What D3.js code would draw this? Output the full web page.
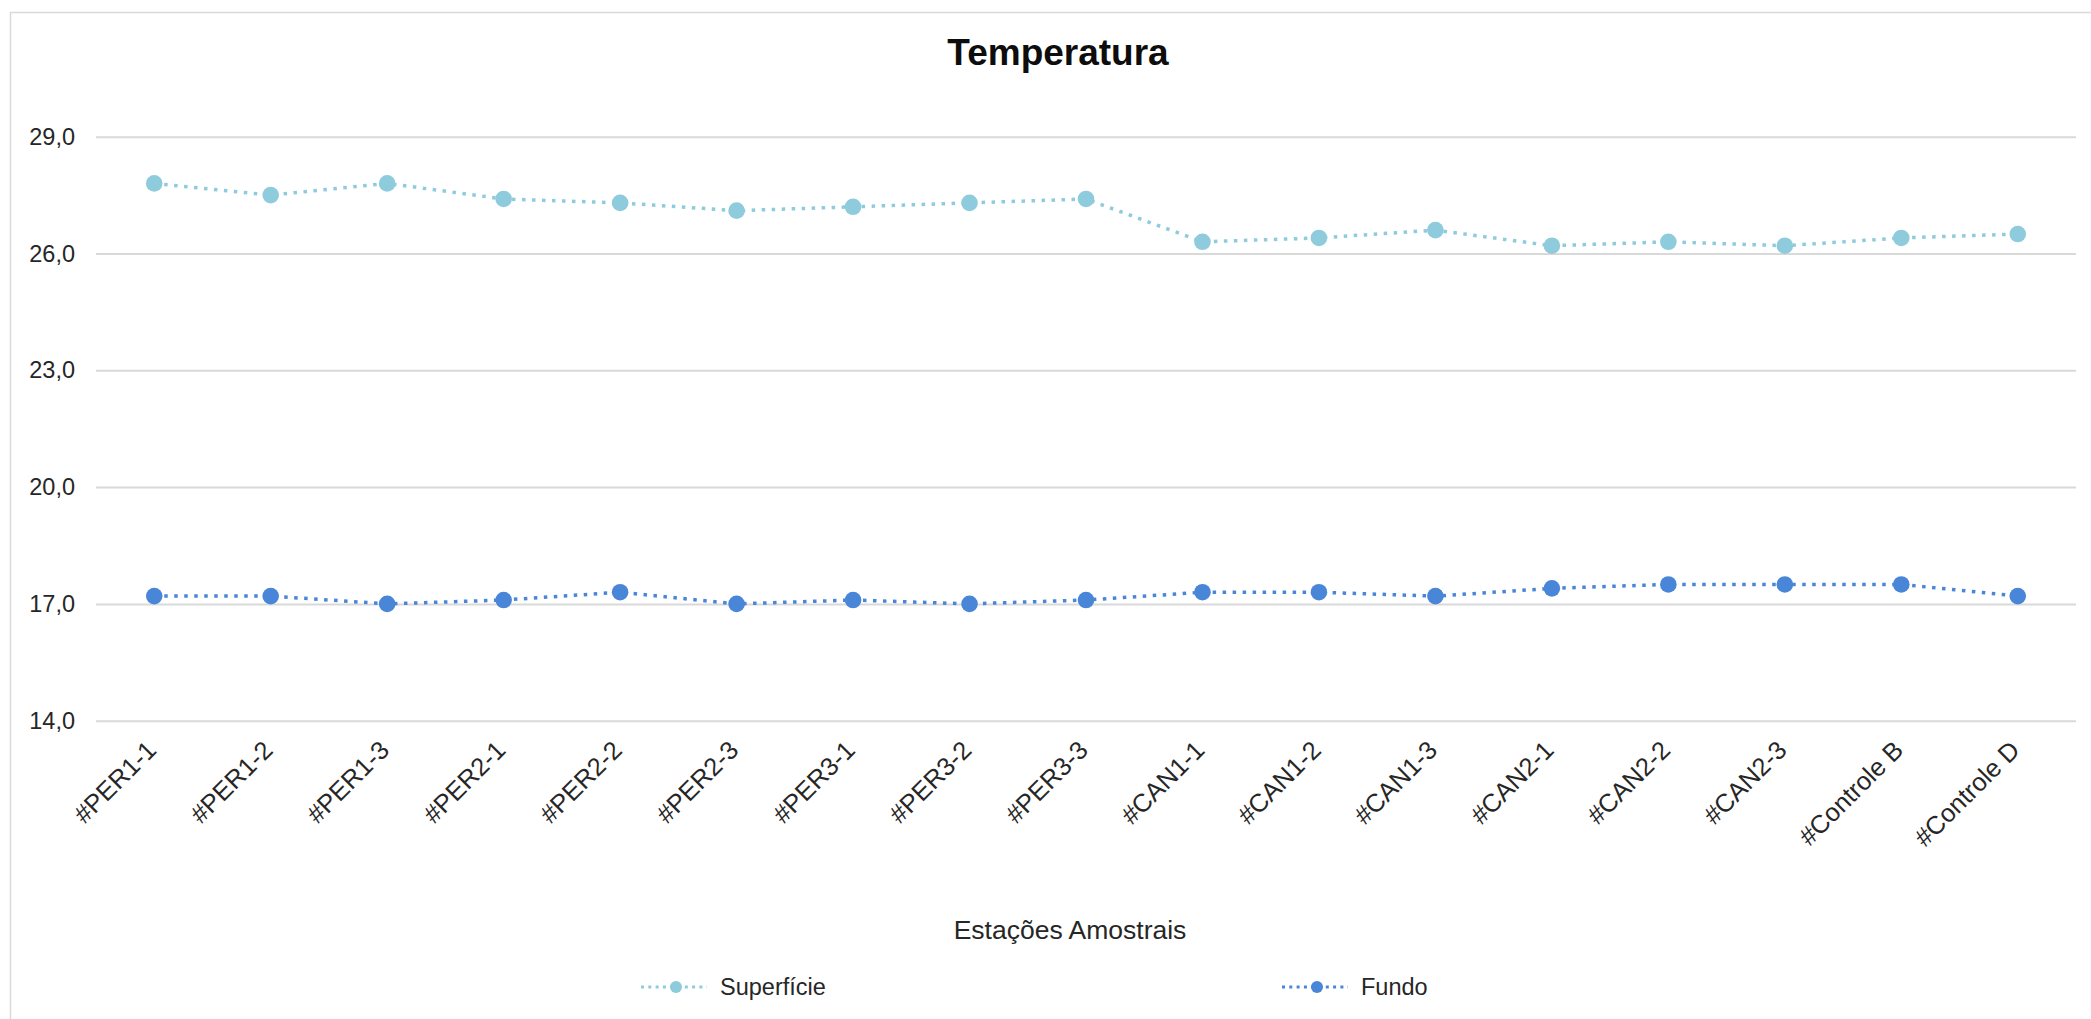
<!DOCTYPE html>
<html>
<head>
<meta charset="utf-8">
<script src="https://cdn.jsdelivr.net/npm/d3@7"></script>
<style>
  html, body { margin: 0; padding: 0; background: #fff; }
  svg { display: block; font-family: "Liberation Sans", Arial, sans-serif; }
</style>
</head>
<body>
<svg id="chart" width="2091" height="1019"></svg>
<script>
// Sampling stations along the x axis
const stations = ["#PER1-1", "#PER1-2", "#PER1-3", "#PER2-1", "#PER2-2", "#PER2-3",
  "#PER3-1", "#PER3-2", "#PER3-3", "#CAN1-1", "#CAN1-2", "#CAN1-3",
  "#CAN2-1", "#CAN2-2", "#CAN2-3", "#Controle B", "#Controle D"];

// Temperature (°C) at the surface and at the bottom
const superficie = [27.8, 27.5, 27.8, 27.4, 27.3, 27.1, 27.2, 27.3, 27.4,
  26.3, 26.4, 26.6, 26.2, 26.3, 26.2, 26.4, 26.5];
const fundo = [17.2, 17.2, 17.0, 17.1, 17.3, 17.0, 17.1, 17.0, 17.1,
  17.3, 17.3, 17.2, 17.4, 17.5, 17.5, 17.5, 17.2];

const yTicks = [14, 17, 20, 23, 26, 29];

const seriesNames = ["Superfície", "Fundo"];
const seriesColors = ["#8ecbdc", "#4a86d8"];

const svg = d3.select("#chart");

// Background and chart frame
svg.append("rect").attr("width", 2091).attr("height", 1019).attr("fill", "#fff");
svg.append("rect")
  .attr("x", 10.5).attr("y", 12.5)
  .attr("width", 2100).attr("height", 1100)
  .attr("fill", "none").attr("stroke", "#d9d9d9").attr("stroke-width", 1.5);

const plotLeft = 96, plotRight = 2076;
const x = d3.scalePoint().domain(stations).range([plotLeft, plotRight]).padding(0.5);
const y = d3.scaleLinear().domain([14, 29]).range([720.7, 136.7]);

const ptBR = d3.formatLocale({ decimal: ",", thousands: ".", grouping: [3], currency: ["R$", ""] });
const fmt = ptBR.format(".1f");

// Horizontal gridlines + value labels
const yAxis = d3.axisLeft(y)
  .tickValues(yTicks)
  .tickFormat(fmt)
  .tickSize(-(plotRight - plotLeft))
  .tickPadding(21);

const gy = svg.append("g")
  .attr("transform", `translate(${plotLeft},0)`)
  .call(yAxis);
gy.select(".domain").remove();
gy.selectAll(".tick line").attr("stroke", "#d9d9d9").attr("stroke-width", 2);
gy.selectAll(".tick text")
  .attr("font-size", 23.5)
  .attr("fill", "#262626")
  .attr("font-family", "Liberation Sans, Arial, sans-serif");

// Category labels, rotated
const xAxis = d3.axisBottom(x).tickSize(0).tickPadding(0);
const gx = svg.append("g")
  .attr("transform", `translate(0,${y(14)})`)
  .call(xAxis);
gx.select(".domain").remove();
gx.selectAll(".tick text")
  .attr("font-size", 25.5)
  .attr("fill", "#262626")
  .attr("font-family", "Liberation Sans, Arial, sans-serif")
  .attr("text-anchor", "end")
  .attr("dy", null)
  .attr("y", 0)
  .attr("transform", "translate(3,31) rotate(-45)");

// Series lines and markers
const data = [superficie, fundo];
const line = d3.line()
  .x((d, i) => x(stations[i]))
  .y(d => y(d));

data.forEach((vals, s) => {
  const g = svg.append("g");
  g.append("path")
    .datum(vals)
    .attr("d", line)
    .attr("fill", "none")
    .attr("stroke", seriesColors[s])
    .attr("stroke-width", 3.5)
    .attr("stroke-dasharray", "3.5 6.5");
  g.selectAll("circle")
    .data(vals)
    .join("circle")
    .attr("cx", (d, i) => x(stations[i]))
    .attr("cy", d => y(d))
    .attr("r", 8.3)
    .attr("fill", seriesColors[s]);
});

// Title
svg.append("text")
  .attr("x", 1058).attr("y", 65)
  .attr("text-anchor", "middle")
  .attr("font-size", 37)
  .attr("font-weight", "bold")
  .attr("fill", "#0d0d0d")
  .text("Temperatura");

// Axis title
svg.append("text")
  .attr("x", 1070).attr("y", 939)
  .attr("text-anchor", "middle")
  .attr("font-size", 26.5)
  .attr("fill", "#262626")
  .text("Estações Amostrais");

// Legend
const legendX = [641, 1282];
seriesNames.forEach((name, s) => {
  const g = svg.append("g").attr("transform", `translate(${legendX[s]},987)`);
  g.append("line")
    .attr("x1", 0).attr("x2", 66)
    .attr("stroke", seriesColors[s])
    .attr("stroke-width", 3)
    .attr("stroke-dasharray", "3 4.3");
  g.append("circle").attr("cx", 35).attr("r", 6).attr("fill", seriesColors[s]);
  g.append("text")
    .attr("x", 79).attr("y", 0)
    .attr("dy", "0.35em")
    .attr("font-size", 23.5)
    .attr("fill", "#262626")
    .text(name);
});
</script>
</body>
</html>
